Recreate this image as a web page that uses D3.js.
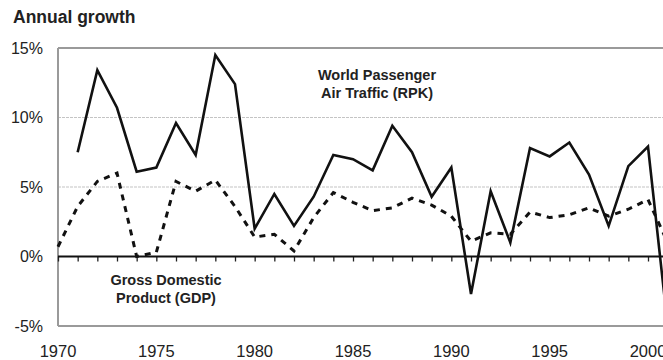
<!DOCTYPE html>
<html><head><meta charset="utf-8">
<script src="https://cdn.jsdelivr.net/npm/d3@7"></script>
<style>
html,body{margin:0;padding:0;background:#fff;overflow:hidden}
svg{display:block;font-family:"Liberation Sans",Arial,Helvetica,sans-serif}
</style></head>
<body><svg id="c" width="663" height="360"></svg>
<script>
const rpkYears = [1971,1972,1973,1974,1975,1976,1977,1978,1979,1980,1981,1982,1983,1984,1985,1986,1987,1988,1989,1990,1991,1992,1993,1994,1995,1996,1997,1998,1999,2000,2001];
const rpkValues = [7.5,13.4,10.7,6.1,6.4,9.6,7.3,14.5,12.4,2.0,4.5,2.2,4.3,7.3,7.0,6.2,9.4,7.5,4.3,6.4,-2.7,4.7,1.0,7.8,7.2,8.2,5.9,2.2,6.5,7.9,-5.0];
const gdpYears = [1970,1971,1972,1973,1974,1975,1976,1977,1978,1979,1980,1981,1982,1983,1984,1985,1986,1987,1988,1989,1990,1991,1992,1993,1994,1995,1996,1997,1998,1999,2000,2001];
const gdpValues = [0.7,3.6,5.4,6.0,0.0,0.3,5.4,4.7,5.5,3.6,1.4,1.6,0.4,2.8,4.6,3.9,3.3,3.5,4.2,3.7,2.9,1.1,1.7,1.6,3.2,2.8,3.0,3.5,2.9,3.4,4.1,1.0];
const yTicks = [-5,0,5,10,15];
const yTickLabels = ["-5%","0%","5%","10%","15%"];
const xTickYears = [1970,1975,1980,1985,1990,1995,2000];
const yAxisTitle = "Annual growth";
const rpkLabel = ["World Passenger","Air Traffic (RPK)"];
const gdpLabel = ["Gross Domestic","Product (GDP)"];

const svg = d3.select("#c");
const x = d3.scaleLinear().domain([1970,2000]).range([58,648]);
const y = d3.scaleLinear().domain([-5,15]).range([326,48]);
const xRight = 663;

// gridlines
svg.append("g").selectAll("line").data(yTicks.filter(d=>d!==0)).join("line")
  .attr("x1",x(1970)).attr("x2",xRight)
  .attr("y1",d=>y(d)).attr("y2",d=>y(d))
  .attr("stroke",d=>(d===15||d===-5)?"#9a9a9a":"#c4c4c4")
  .attr("stroke-width",d=>(d===15||d===-5)?2:1.2)
  .attr("stroke-dasharray",d=>(d===15||d===-5)?null:"3,1");

// left axis line
svg.append("line").attr("x1",x(1970)).attr("x2",x(1970))
  .attr("y1",y(15)).attr("y2",y(-5)).attr("stroke","#9a9a9a").attr("stroke-width",2);

// y tick labels
svg.append("g").selectAll("text").data(yTicks).join("text")
  .attr("x",43).attr("y",d=>y(d)).attr("dy","0.36em")
  .attr("text-anchor","end").attr("font-size",16).attr("fill","#222")
  .text((d,i)=>yTickLabels[i]);

// zero axis with yearly ticks
const zeroAxis = d3.axisBottom(x).tickValues(d3.range(1970,2002)).tickSize(5).tickFormat("");
const zg = svg.append("g").attr("transform",`translate(0,${y(0)})`).call(zeroAxis);
zg.select(".domain").remove();
zg.selectAll(".tick line").attr("stroke","#222").attr("stroke-width",1.3);
svg.append("line").attr("x1",x(1970)).attr("x2",xRight).attr("y1",y(0)).attr("y2",y(0))
  .attr("stroke","#111").attr("stroke-width",1.8);

// x labels at bottom
svg.append("g").selectAll("text").data(xTickYears).join("text")
  .attr("x",d=>x(d)).attr("y",357).attr("text-anchor","middle")
  .attr("font-size",16.5).attr("fill","#222").text(d=>d);

// title
svg.append("text").attr("x",13).attr("y",23).attr("font-size",17.5).attr("font-weight","bold")
  .attr("fill","#222").text(yAxisTitle);

// lines
const rpk = rpkYears.map((d,i)=>[d,rpkValues[i]]);
const gdp = gdpYears.map((d,i)=>[d,gdpValues[i]]);
const line = d3.line().x(d=>x(d[0])).y(d=>y(d[1]));
svg.append("path").datum(gdp).attr("d",line).attr("fill","none")
  .attr("stroke","#111").attr("stroke-width",3).attr("stroke-dasharray","6,6");
svg.append("path").datum(rpk).attr("d",line).attr("fill","none")
  .attr("stroke","#111").attr("stroke-width",2.6).attr("stroke-linejoin","miter");

// annotations
svg.append("text").attr("text-anchor","middle").attr("font-size",14.5).attr("font-weight","bold").attr("fill","#222")
  .selectAll("tspan").data(rpkLabel).join("tspan")
  .attr("x",377).attr("y",(d,i)=>80+i*18).text(d=>d);
svg.append("text").attr("text-anchor","middle").attr("font-size",14.5).attr("font-weight","bold").attr("fill","#222")
  .selectAll("tspan").data(gdpLabel).join("tspan")
  .attr("x",166).attr("y",(d,i)=>285+i*18).text(d=>d);
</script></body></html>
